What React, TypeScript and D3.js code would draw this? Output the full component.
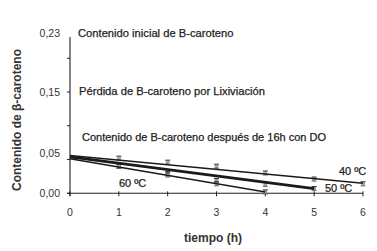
import React from "react";
import * as d3 from "d3";

const hours = [0, 1, 2, 3, 4, 5, 6];
const yTickValues = [0, 0.05, 0.1, 0.15, 0.2];
const yLabelValues = [0, 0.05, 0.15, 0.23];
const yLabelTexts = ["0,00", "0,05", "0,15", "0,23"];

const t40 = [1, 2, 3, 4, 5, 6];
const v40 = [0.052, 0.046, 0.04, 0.03, 0.021, 0.014];
const t50 = [1, 2, 3, 4, 5];
const v50 = [0.04, 0.029, 0.019, 0.013, 0.007];
const t60 = [1, 2, 3, 4];
const v60 = [0.04, 0.027, 0.014, 0.002];

const fit40 = [[0, 0.056], [6, 0.015]];
const fit50 = [[0, 0.054], [5, 0.007]];
const fit60 = [[0, 0.051], [4, 0.002]];

const W = 377, H = 251;

export default function App() {
  const x = d3.scaleLinear().domain([0, 6]).range([70, 363]);
  const y = d3.scaleLinear().domain([0, 0.23]).range([193.3, 38]);
  const line = d3.line<number[]>().x(d => x(d[0])).y(d => y(d[1]));
  const font = "Liberation Sans, Arial, sans-serif";
  const txt = { fill: "#222", stroke: "#222", strokeWidth: 0.25 };
  const markers = (ts: number[], vs: number[], key: string) =>
    ts.map((t, i) => (
      <g key={key + i}>
        <line x1={x(t)} x2={x(t)} y1={y(vs[i] + 0.003)} y2={y(vs[i] - 0.003)} stroke="#222" strokeWidth={1} />
        <line x1={x(t) - 2.5} x2={x(t) + 2.5} y1={y(vs[i] + 0.003)} y2={y(vs[i] + 0.003)} stroke="#222" strokeWidth={1} />
        <line x1={x(t) - 2.5} x2={x(t) + 2.5} y1={y(vs[i] - 0.003)} y2={y(vs[i] - 0.003)} stroke="#555" strokeWidth={0.8} />
        <rect x={x(t) - 1.5} y={y(vs[i]) - 1.5} width={3} height={3} fill="#aaa" stroke="#777" strokeWidth={0.5} />
      </g>
    ));
  return (
    <svg width={W} height={H} style={{ position: "absolute", left: 0, top: 0, background: "#fff" }} fontFamily={font}>
      {/* y axis */}
      <line x1={70} x2={70} y1={37} y2={196} stroke="#222" strokeWidth={1.1} />
      {yTickValues.map(v => (
        <line key={"yt" + v} x1={67} x2={70} y1={y(v)} y2={y(v)} stroke="#222" />
      ))}
      {yLabelValues.map((v, i) => (
        <text key={"yl" + v} x={60} y={v === 0.05 ? y(v) - 6 : v === 0.23 ? y(v) - 5 : y(v)} dy="0.35em" textAnchor="end" fontSize={10.5} fill="#333">
          {yLabelTexts[i]}
        </text>
      ))}
      {/* x axis */}
      <line x1={67} x2={363} y1={y(0)} y2={y(0)} stroke="#222" strokeWidth={1.1} />
      {hours.map(h => (
        <g key={"xt" + h}>
          <line x1={x(h)} x2={x(h)} y1={y(0) - 2} y2={y(0) + 3} stroke="#222" />
          <text x={x(h)} y={212} dy="0.35em" textAnchor="middle" fontSize={10.5} fill="#333">{h}</text>
        </g>
      ))}
      <text x={213} y={238} dy="0.35em" textAnchor="middle" fontSize={12} fontWeight="bold" fill="#333">tiempo (h)</text>
      <text transform={`translate(17,120) rotate(-90)`} textAnchor="middle" dy="0.35em" fontSize={12} fontWeight="bold" fill="#333">Contenido  de β-caroteno</text>
      {/* annotations */}
      <text x={78} y={33} dy="0.35em" fontSize={11.2} {...txt}>Contenido inicial de B-caroteno</text>
      <text x={79} y={91} dy="0.35em" fontSize={11.2} {...txt}>Pérdida de B-caroteno por Lixiviación</text>
      <text x={82} y={137} dy="0.35em" fontSize={11} {...txt}>Contenido de B-caroteno después de 16h con DO</text>
      <text x={339} y={171} dy="0.35em" fontSize={11} {...txt}>40 ºC</text>
      <text x={325} y={188} dy="0.35em" fontSize={11} {...txt}>50 ºC</text>
      <text x={119} y={183} dy="0.35em" fontSize={11} {...txt}>60 ºC</text>
      {/* markers */}
      {markers(t40, v40, "m40")}
      {markers(t50, v50, "m50")}
      {markers(t60, v60, "m60")}
      {/* fitted lines */}
      <path d={line(fit40) || ""} fill="none" stroke="#1a1a1a" strokeWidth={1.5} />
      <path d={line(fit60) || ""} fill="none" stroke="#1a1a1a" strokeWidth={1.5} />
      <path d={line(fit50) || ""} fill="none" stroke="#1a1a1a" strokeWidth={2.8} />
    </svg>
  );
}
